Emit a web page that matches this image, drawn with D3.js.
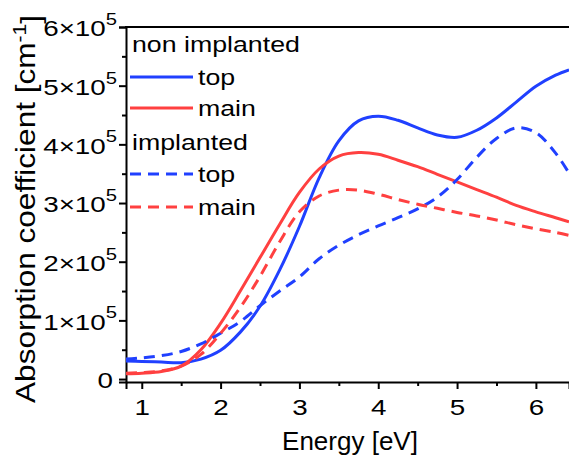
<!DOCTYPE html>
<html>
<head>
<meta charset="utf-8">
<script src="https://cdn.jsdelivr.net/npm/d3@7"></script>
<style>
  body { margin: 0; background: #fff; }
  svg { display: block; }
  svg text { font-family: "Liberation Sans", Arial, sans-serif; fill: #000; }
  .axis path, .axis line { stroke: #000; stroke-width: 2; }
  .axis text { font-size: 22px; }
</style>
</head>
<body>
<svg width="569" height="457"></svg>
<script>
// energies [eV] and absorption coefficients [1e5 cm^-1]
var energy = [0.8, 1.0, 1.25, 1.5, 1.75, 2.0, 2.25, 2.5, 2.75, 3.0, 3.25, 3.5, 3.75,
              4.0, 4.25, 4.5, 4.75, 5.0, 5.25, 5.5, 5.75, 6.0, 6.25, 6.42];
var nonTop  = [0.31, 0.30, 0.29, 0.28, 0.34, 0.49, 0.80, 1.24, 1.86, 2.60, 3.43, 4.06, 4.40,
               4.48, 4.41, 4.28, 4.16, 4.12, 4.24, 4.45, 4.72, 4.99, 5.18, 5.27];
var nonMain = [0.09, 0.10, 0.13, 0.22, 0.50, 0.95, 1.50, 2.07, 2.64, 3.18, 3.58, 3.80, 3.86,
               3.83, 3.73, 3.62, 3.49, 3.36, 3.23, 3.10, 2.96, 2.85, 2.75, 2.68];
var impTop  = [0.34, 0.36, 0.40, 0.47, 0.60, 0.78, 0.98, 1.25, 1.50, 1.74, 2.05, 2.28, 2.46,
               2.61, 2.75, 2.90, 3.10, 3.40, 3.78, 4.10, 4.28, 4.20, 3.85, 3.51];
var impMain = [0.10, 0.11, 0.14, 0.22, 0.42, 0.78, 1.22, 1.75, 2.34, 2.85, 3.12, 3.22, 3.22,
               3.15, 3.06, 2.98, 2.91, 2.84, 2.78, 2.71, 2.63, 2.56, 2.50, 2.45];

var xTicks = [1, 2, 3, 4, 5, 6];
var yTicks = [0, 1, 2, 3, 4, 5, 6];

var blue = '#2040ff', red = '#ff4040';
var dashed = '11,7';
var series = [
    {group: 'non implanted', name: 'top',  values: nonTop,  color: blue, dash: null},
    {group: 'non implanted', name: 'main', values: nonMain, color: red,  dash: null},
    {group: 'implanted',     name: 'top',  values: impTop,  color: blue, dash: dashed},
    {group: 'implanted',     name: 'main', values: impMain, color: red,  dash: dashed}
];

var svg = d3.select('svg');
var plot = {left: 126, right: 569, top: 27, bottom: 382};

var x = d3.scaleLinear().domain([0.8, 6.42]).range([plot.left, plot.right]);
var y = d3.scaleLinear().domain([-0.05, 6]).range([plot.bottom, plot.top]);

// the reference text is drawn wide: stretch a text to a given width
var widthFactor = function(sel, target) {
    return target / sel.node().getBBox().width;
};

svg.append('defs').append('clipPath').attr('id', 'clip')
    .append('rect')
    .attr('x', plot.left).attr('y', plot.top)
    .attr('width', plot.right - plot.left).attr('height', plot.bottom - plot.top);

// minor ticks
svg.append('g')
    .attr('class', 'axis')
    .attr('transform', 'translate(0,' + plot.bottom + ')')
    .call(d3.axisBottom(x).tickValues(d3.range(1.5, 6.5, 1)).tickSize(4).tickFormat(''))
    .call(function(g) { g.select('.domain').remove(); });
svg.append('g')
    .attr('class', 'axis')
    .attr('transform', 'translate(' + plot.left + ',0)')
    .call(d3.axisLeft(y).tickValues(d3.range(0.5, 6, 1)).tickSize(4).tickFormat(''))
    .call(function(g) { g.select('.domain').remove(); });

// y axis
var yAxis = svg.append('g')
    .attr('class', 'axis')
    .attr('transform', 'translate(' + plot.left + ',0)')
    .call(d3.axisLeft(y).tickValues(yTicks).tickSizeOuter(0).tickSize(7)
        .tickFormat(''));

yAxis.selectAll('.tick text').each(function(d) {
    var t = d3.select(this).attr('x', 0).attr('dy', '0.4em');
    if (d === 0) { t.text('0'); return; }
    t.append('tspan').text(d + '\u00d710');
    t.append('tspan').attr('dy', '-0.7em').attr('font-size', '16px').text('5');
});
var tickK = widthFactor(yAxis.selectAll('.tick text').filter(function(d) { return d === 6; }), 74);
yAxis.selectAll('.tick text').attr('transform', function(d) {
    return 'translate(' + (d === 0 ? -13 : -9) + ',0) scale(' + tickK + ',1)';
});

// x axis
svg.append('g')
    .attr('class', 'axis')
    .attr('transform', 'translate(0,' + plot.bottom + ')')
    .call(d3.axisBottom(x).tickValues(xTicks).tickSizeOuter(0).tickSize(7).tickPadding(10)
        .tickFormat(d3.format('d')))
    .selectAll('.tick text')
    .attr('transform', 'scale(' + tickK + ',1)');

// top frame
svg.append('line')
    .attr('x1', plot.left - 1).attr('x2', plot.right)
    .attr('y1', plot.top).attr('y2', plot.top)
    .attr('stroke', '#000').attr('stroke-width', 2);

// curves
var line = d3.line()
    .x(function(d) { return x(d[0]); })
    .y(function(d) { return y(d[1]); })
    .curve(d3.curveCatmullRom);

svg.append('g').attr('clip-path', 'url(#clip)')
    .selectAll('path')
    .data(series)
    .enter()
    .append('path')
    .attr('d', function(s) { return line(d3.zip(energy, s.values)); })
    .attr('fill', 'none')
    .attr('stroke', function(s) { return s.color; })
    .attr('stroke-width', 3)
    .attr('stroke-dasharray', function(s) { return s.dash; });

// legend
var legend = svg.append('g').attr('font-size', '22px');
var rows = [
    {text: 'non implanted', y: 52},
    {s: series[0], y: 77},
    {s: series[1], y: 108},
    {text: 'implanted', y: 150},
    {s: series[2], y: 174},
    {s: series[3], y: 207}
];
var legendTexts = [];
rows.forEach(function(r) {
    if (r.text) {
        legendTexts.push({el: legend.append('text').text(r.text), x: 132, y: r.y});
    } else {
        legend.append('line')
            .attr('x1', 130).attr('x2', 193)
            .attr('y1', r.y).attr('y2', r.y)
            .attr('stroke', r.s.color).attr('stroke-width', 3)
            .attr('stroke-dasharray', r.s.dash);
        legendTexts.push({el: legend.append('text').text(r.s.name), x: 198, y: r.y + 8});
    }
});
var legK = widthFactor(legendTexts[0].el, 168);
legendTexts.forEach(function(t) {
    t.el.attr('transform', 'translate(' + t.x + ',' + t.y + ') scale(' + legK + ',1)');
});

// axis titles
var xt = svg.append('text')
    .attr('text-anchor', 'middle')
    .attr('font-size', '25px')
    .text('Energy [eV]');
xt.attr('transform', 'translate(350,450) scale(' + widthFactor(xt, 136) + ',1)');

var yt = svg.append('text')
    .attr('text-anchor', 'middle')
    .attr('font-size', '27px');
yt.append('tspan').text('Absorption coefficient [cm');
yt.append('tspan').attr('dy', '-0.5em').attr('font-size', '18px').text('-1');
yt.append('tspan').attr('dy', '0.5em').text(']');
yt.attr('transform', 'translate(35,209) rotate(-90) scale(' + widthFactor(yt, 388) + ',1)');
</script>
</body>
</html>
